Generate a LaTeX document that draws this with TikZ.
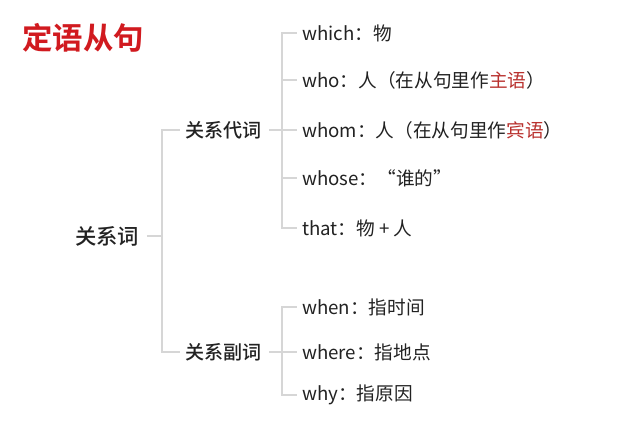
\documentclass[tikz,border=0pt]{standalone}
\usepackage{fontspec}
\setmainfont{Noto Sans CJK SC}
\newfontfamily\cjkb{Noto Sans CJK SC Bold}
\newfontfamily\cjkm{Noto Sans CJK SC Medium}
\definecolor{titlered}{HTML}{D11A1F}
\definecolor{accent}{HTML}{B9312E}
\definecolor{ink}{HTML}{222222}
\definecolor{branch}{HTML}{D6D6D6}
\begin{document}
\begin{tikzpicture}[x=0.75pt,y=-0.75pt,
  leaf/.style={anchor=west,inner sep=0pt,text=ink,font=\fontsize{14pt}{16pt}\selectfont},
  mid/.style={anchor=west,inner sep=0pt,text=ink,font=\cjkm\fontsize{14.3pt}{16pt}\selectfont},
  rootstyle/.style={anchor=west,inner sep=0pt,text=ink,font=\cjkm\fontsize{16pt}{18pt}\selectfont},
  branchline/.style={draw=branch,line width=1pt},
  tojoin/.style={branchline,shorten <=5.5pt},
  toleaf/.style={branchline,shorten >=4pt}]
\useasboundingbox (0,0) rectangle (640,427);
\fill[white] (0,0) rectangle (640,427);
\node[anchor=west,inner sep=0pt,text=titlered,font=\cjkb\fontsize{22.8pt}{24pt}\selectfont] (title) at (22,38) {定语从句};
% root and middle level
\node[rootstyle] (root) at (75,236) {关系词};
\node[mid] (dc) at (185,130) {关系代词};
\node[mid] (fc) at (185,352) {关系副词};
% leaves of 关系代词
\node[leaf] (which) at (302,33) {which：物};
\node[leaf] (who) at (302,80) {who：人（在从句里作\textcolor{accent}{主语}）};
\node[leaf] (whom) at (302,130) {whom：人（在从句里作\textcolor{accent}{宾语}）};
\node[leaf] (whose) at (302,178) {whose：“谁的”};
\node[leaf] (that) at (302,228) {that：物\hspace{3pt}+\hspace{3pt}人};
% leaves of 关系副词
\node[leaf] (when) at (302,307) {when：指时间};
\node[leaf] (where) at (302,352) {where：指地点};
\node[leaf] (why) at (302,395) {why：指原因};
% junctions
\coordinate (j0) at (162,236);
\coordinate (j1) at (282,130);
\coordinate (j2) at (282,352);
% connectors
\draw[tojoin] (root.east) -- (j0);
\draw[toleaf] (j0) |- (dc.west);
\draw[toleaf] (j0) |- (fc.west);
\draw[tojoin] (dc.east) -- (j1);
\foreach \n in {which,who,whom,whose,that} \draw[toleaf] (j1) |- (\n.west);
\draw[tojoin] (fc.east) -- (j2);
\foreach \n in {when,where,why} \draw[toleaf] (j2) |- (\n.west);
\end{tikzpicture}
\end{document}
